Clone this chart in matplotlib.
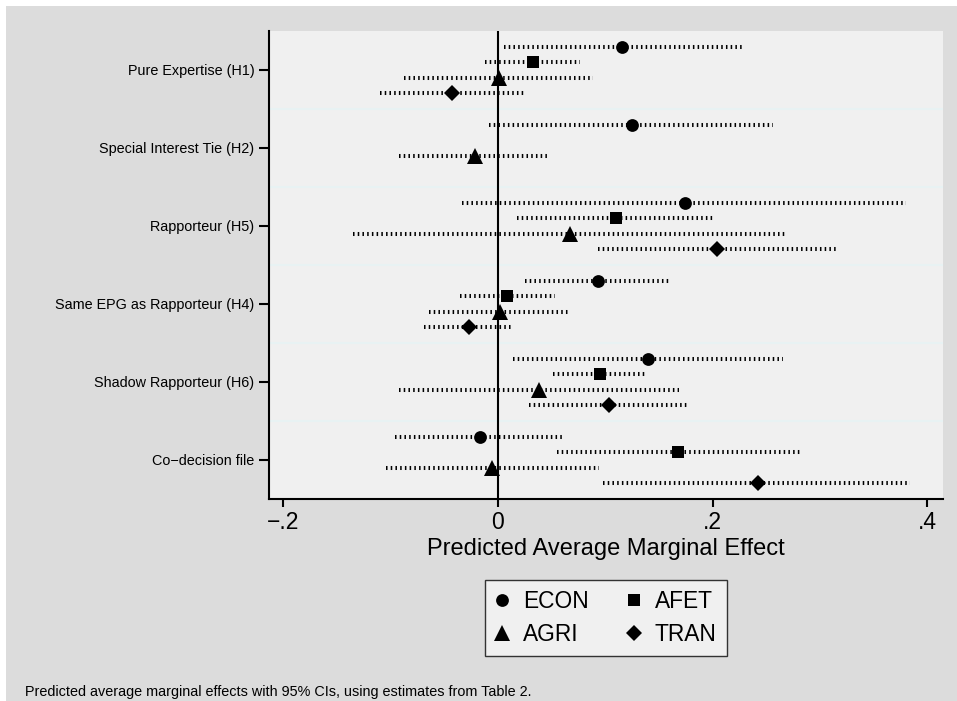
import numpy as np
import matplotlib
matplotlib.use("Agg")
import matplotlib.pyplot as plt
from matplotlib.lines import Line2D
from matplotlib.patches import Rectangle

plt.rcParams['font.family'] = ['Liberation Sans', 'DejaVu Sans']
plt.rcParams['lines.scale_dashes'] = False

nan = np.nan

# categories, top to bottom
categories = ["Pure Expertise (H1)", "Special Interest Tie (H2)", "Rapporteur (H5)",
              "Same EPG as Rapporteur (H4)", "Shadow Rapporteur (H6)", "Co\u2212decision file"]

# point estimates and 95% CI per committee
econ = [0.116, 0.125, 0.174, 0.093, 0.140, -0.017]
econ_lo = [0.006, -0.008, -0.033, 0.025, 0.014, -0.096]
econ_hi = [0.228, 0.256, 0.380, 0.160, 0.266, 0.061]

afet = [0.033, nan, 0.110, 0.009, 0.095, 0.168]
afet_lo = [-0.012, nan, 0.018, -0.035, 0.051, 0.055]
afet_hi = [0.077, nan, 0.200, 0.053, 0.137, 0.281]

agri = [0.001, -0.021, 0.067, 0.002, 0.038, -0.005]
agri_lo = [-0.087, -0.092, -0.135, -0.064, -0.092, -0.104]
agri_hi = [0.089, 0.049, 0.269, 0.067, 0.169, 0.094]

tran = [-0.043, nan, 0.204, -0.027, 0.104, 0.242]
tran_lo = [-0.110, nan, 0.093, -0.069, 0.029, 0.098]
tran_hi = [0.024, nan, 0.315, 0.014, 0.177, 0.384]

series = [
    ("ECON", econ, econ_lo, econ_hi, 'o', 9.2, -0.3),
    ("AFET", afet, afet_lo, afet_hi, 's', 9.3, -0.1),
    ("AGRI", agri, agri_lo, agri_hi, '^', 11.0, 0.1),
    ("TRAN", tran, tran_lo, tran_hi, 'D', 8.6, 0.3),
]

xticks = [-0.2, 0, 0.2, 0.4]
xticklabels = ["\u2212.2", "0", ".2", ".4"]

fig = plt.figure(figsize=(9.57, 7.01), dpi=100, facecolor='white')
# stata-ish outer background (white strip on top/left)
fig.patches.append(Rectangle((6 / 957, 0), 1, 1 - 6 / 701, transform=fig.transFigure,
                             facecolor='#dcdcdc', edgecolor='none', zorder=-10))

ax = fig.add_axes([0.2811, 0.2882, 0.9854 - 0.2811, 0.9558 - 0.2882])
ax.set_facecolor('#f0f0f0')

y = np.arange(len(categories))

for i in range(len(categories) - 1):
    ax.axhline(i + 0.5, color='#e8f2f3', lw=1.5, zorder=0.5)

handles = {}
for name, vals, lo, hi, mk, ms, off in series:
    for j in range(len(categories)):
        if np.isnan(vals[j]):
            continue
        ax.plot([lo[j], hi[j]], [y[j] + off, y[j] + off], color='black', lw=2.9,
                linestyle=(0, (1.1, 2.3)), dash_capstyle='butt', zorder=1.5)
    ax.plot(vals, y + off, linestyle='none', marker=mk, markersize=ms,
            color='black', markeredgewidth=0, zorder=3)
    handles[name] = Line2D([], [], linestyle='none', marker=mk, markersize=ms,
                           color='black', markeredgewidth=0)

ax.axvline(0, color='black', lw=1.5, zorder=2)

ax.set_ylim(len(categories) - 0.5, -0.5)
ax.set_xlim(-0.213, 0.4146)
ax.set_yticks(y)
ax.set_yticklabels(categories, fontsize=10.4)
ax.set_xticks(xticks)
ax.set_xticklabels(xticklabels, fontsize=16.5)
ax.tick_params(axis='y', length=7, width=1.5, pad=3.5)
ax.tick_params(axis='x', length=6, width=1.5, pad=3)

for s in ['top', 'right']:
    ax.spines[s].set_visible(False)
for s in ['left', 'bottom']:
    ax.spines[s].set_linewidth(1.5)

fig.text(606 / 957, 1 - 549 / 701, "Predicted Average Marginal Effect",
         ha='center', va='center', fontsize=17)

order = ["ECON", "AGRI", "AFET", "TRAN"]
leg = fig.legend([handles[k] for k in order], order, ncol=2, loc='center',
                 bbox_to_anchor=(606 / 957, 1 - 617.8 / 701), fontsize=16.4,
                 frameon=True, fancybox=False, borderpad=0.45, labelspacing=0.42,
                 handlelength=0.55, handletextpad=0.65, columnspacing=1.7)
leg.get_frame().set_facecolor('#f0f0f0')
leg.get_frame().set_edgecolor('#333333')
leg.get_frame().set_linewidth(1.0)
leg.get_frame().set_alpha(1)

fig.text(25 / 957, 1 - 692 / 701,
         "Predicted average marginal effects with 95% CIs, using estimates from Table 2.",
         ha='left', va='center', fontsize=10.4)

fig.savefig('out.png', dpi=100, facecolor=fig.get_facecolor())
